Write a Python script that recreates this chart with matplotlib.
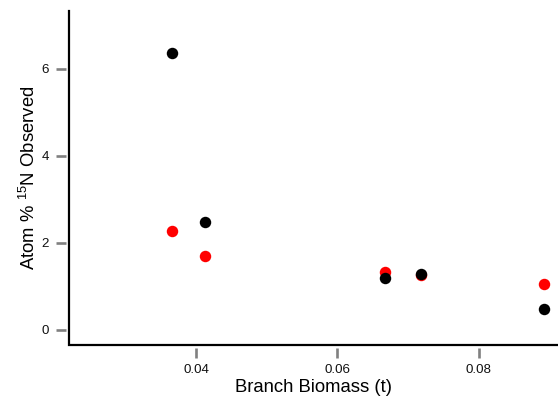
import matplotlib
matplotlib.use("Agg")
import matplotlib.pyplot as plt

plt.rcParams['font.family'] = ['Liberation Sans', 'DejaVu Sans']
plt.rcParams['mathtext.fontset'] = 'custom'
plt.rcParams['mathtext.rm'] = 'Liberation Sans'
plt.rcParams['mathtext.default'] = 'regular'

# branch biomass (t) and observed atom % 15N for the two series
biomass = [0.0366, 0.0413, 0.0668, 0.0719, 0.0893]
red_vals = [2.28, 1.70, 1.33, 1.27, 1.05]
black_vals = [6.37, 2.48, 1.20, 1.28, 0.49]

x_ticks = [0.04, 0.06, 0.08]
x_labels = ["0.04", "0.06", "0.08"]
y_ticks = [0, 2, 4, 6]
y_labels = ["0", "2", "4", "6"]

fig = plt.figure(figsize=(5.58, 4.01), dpi=100)
ax = fig.add_axes([69 / 558, 1 - 345 / 401, 1 - 69 / 558, 334 / 401])

ax.scatter(biomass, red_vals, s=68, color='#ff0000', linewidths=0, zorder=3)
ax.scatter(biomass, black_vals, s=68, color='black', linewidths=0, zorder=4)

ax.set_xlim(0.02202, 0.09122)
ax.set_ylim(-0.345, 7.33)

# axis lines sit on the plot edge, ticks float just outside
for side in ['top', 'right']:
    ax.spines[side].set_visible(False)
for side in ['left', 'bottom']:
    ax.spines[side].set_position(('outward', 2))
    ax.spines[side].set_color('none')
ax.plot([0, 0, 1], [1, 0, 0], transform=ax.transAxes, color='black',
        lw=1.6, clip_on=False, solid_joinstyle='miter', zorder=5)

ax.set_xticks(x_ticks)
ax.set_xticklabels(x_labels)
ax.set_yticks(y_ticks)
ax.set_yticklabels(y_labels)
ax.tick_params(axis='both', direction='out', length=7, width=1.9,
               color='#808080', labelsize=9.6, labelcolor='#111111')
ax.tick_params(axis='y', pad=5.5)
ax.tick_params(axis='x', pad=5)

ax.set_xlabel("Branch Biomass (t)", fontsize=13.3, labelpad=2)
ax.set_ylabel("Atom % $^{15}$N Observed", fontsize=13.3, labelpad=1.5)

fig.savefig("out.png", dpi=100)
